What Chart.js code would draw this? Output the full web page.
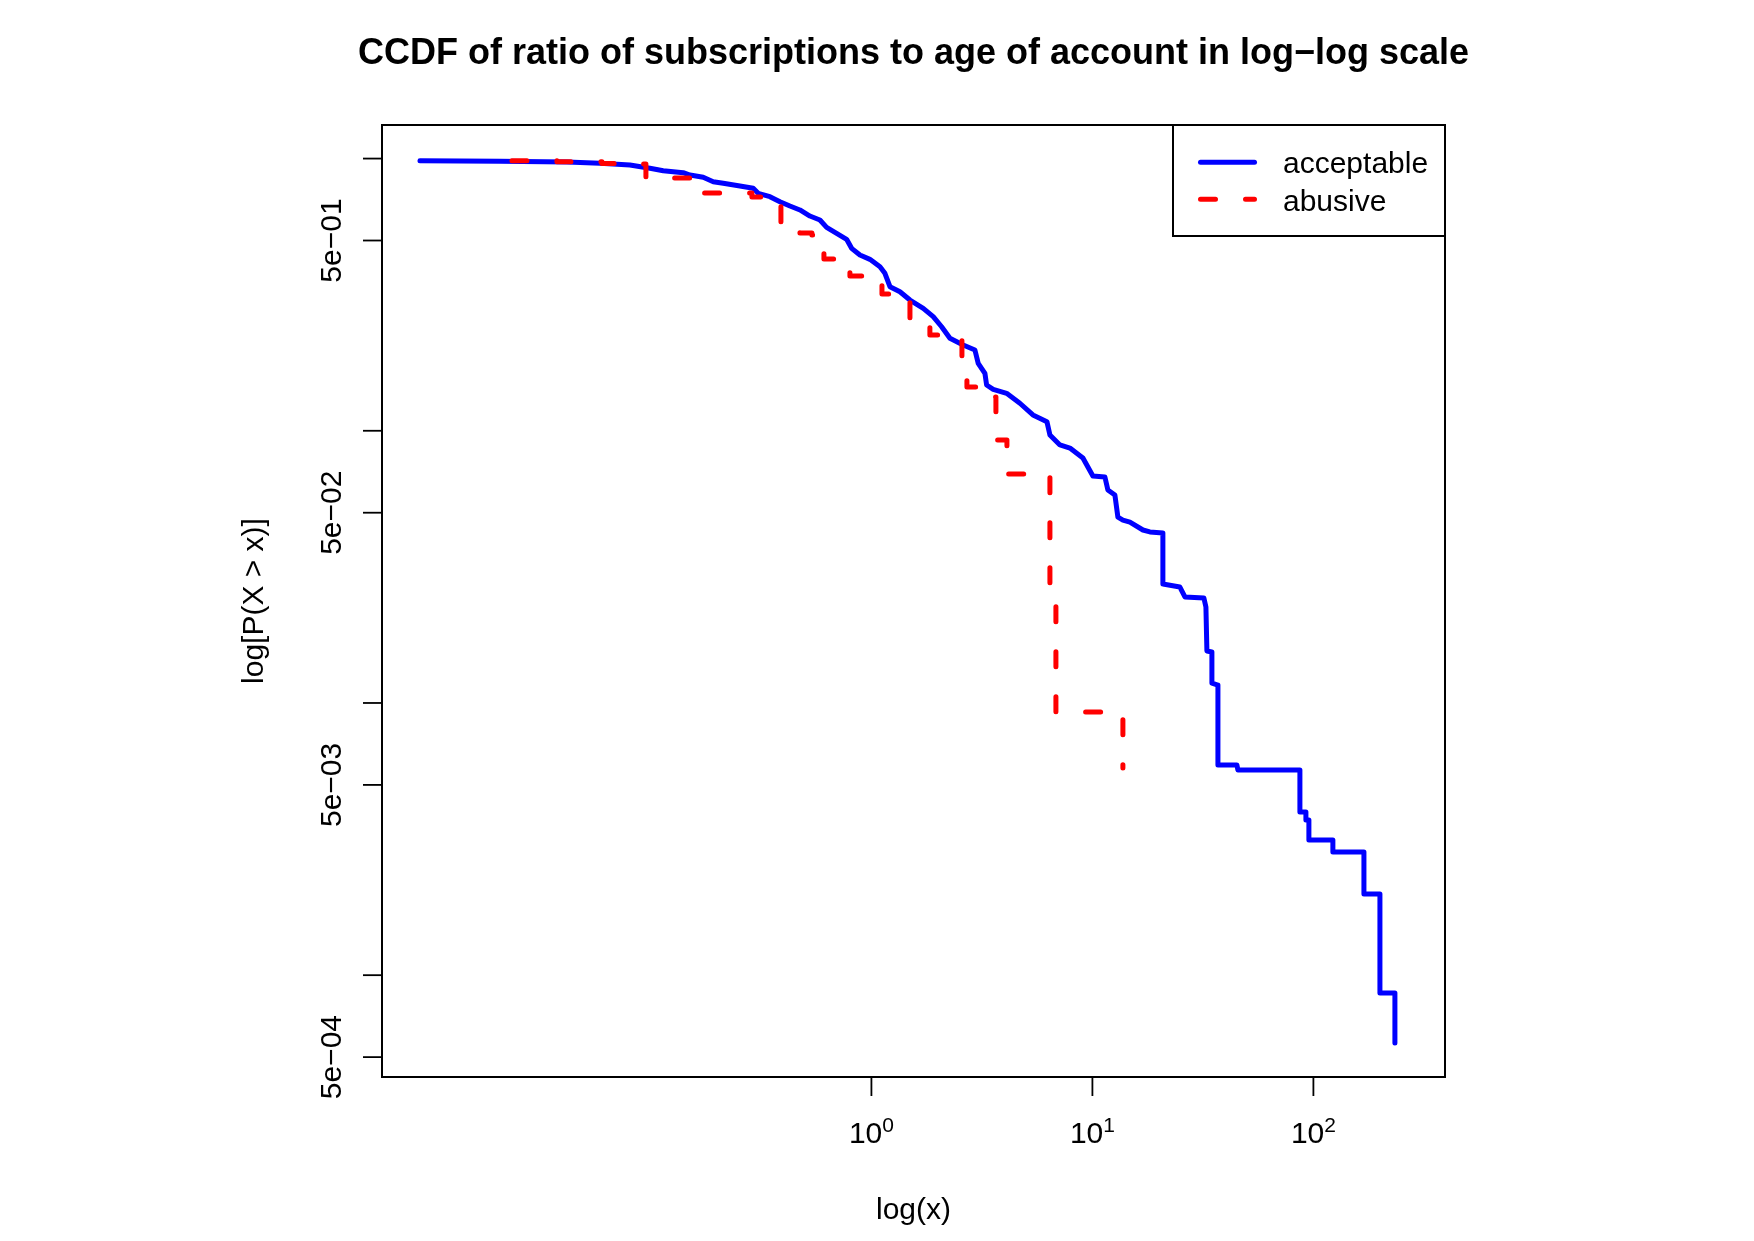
<!DOCTYPE html>
<html>
<head>
<meta charset="utf-8">
<title>CCDF log-log</title>
<script src="https://cdn.jsdelivr.net/npm/chart.js@4.4.0/dist/chart.umd.min.js"></script>
<style>
  html, body { margin: 0; padding: 0; background: #fff; }
  canvas { display: block; }
</style>
</head>
<body>
<canvas id="ccdf" width="1754" height="1241"></canvas>
<script>
// acceptable (repeated x = vertical drop)
const acceptableX = [0.00906, 0.02084, 0.04191, 0.05908, 0.08076, 0.09948, 0.1143, 0.1407, 0.1510, 0.1733,
    0.1924, 0.2135, 0.2541, 0.2918, 0.3074, 0.3473, 0.3855, 0.4279, 0.4748, 0.5268,
    0.5848, 0.6270, 0.6959, 0.7722, 0.8136, 0.8873, 0.9845, 1.093, 1.151, 1.213,
    1.346, 1.494, 1.716, 1.904, 2.078, 2.266, 2.602, 2.940, 3.043, 3.263,
    3.321, 3.557, 4.091, 4.697, 5.380, 6.225, 6.423, 7.128, 7.911, 9.059,
    9.541, 10.05, 11.39, 11.75, 12.64, 13.04, 13.74, 14.78, 16.93, 18.20,
    20.84, 20.84, 24.88, 26.22, 31.95, 32.63, 32.97, 34.73, 34.73, 36.98,
    36.98, 45.07, 45.54, 86.88, 86.88, 92.49, 92.49, 95.41, 95.41, 122.5,
    122.5, 169.3, 169.3, 200.0, 200.0, 233.8, 233.8];
const acceptableY = [0.9821, 0.9772, 0.9714, 0.9607, 0.9471, 0.9209, 0.9024, 0.8873, 0.8701, 0.8535,
    0.8222, 0.8111, 0.7930, 0.7776, 0.7453, 0.7243, 0.6942, 0.6694, 0.6474, 0.6151,
    0.5947, 0.5590, 0.5314, 0.5050, 0.4680, 0.4421, 0.4264, 0.4006, 0.3789, 0.3383,
    0.3242, 0.3022, 0.2818, 0.2626, 0.2411, 0.2186, 0.2065, 0.1980, 0.1770, 0.1626,
    0.1473, 0.1420, 0.1373, 0.1262, 0.1143, 0.1080, 0.0965, 0.0887, 0.0864, 0.0794,
    0.0736, 0.0682, 0.0676, 0.0606, 0.0581, 0.0482, 0.0470, 0.0462, 0.0432, 0.0425,
    0.0421, 0.02735, 0.02667, 0.02451, 0.02430, 0.02252, 0.01552, 0.01539, 0.01184, 0.01164,
    0.005916, 0.005916, 0.005671, 0.005671, 0.003976, 0.003976, 0.003715, 0.003715, 0.003138, 0.003138,
    0.002835, 0.002835, 0.001987, 0.001987, 0.000860, 0.000860, 0.000563];

// abusive: step corners (drawn as steps)
const abusiveX = [0.02362, 0.03775, 0.06033, 0.08963, 0.09541, 0.1557, 0.1675, 0.2879, 0.3366, 0.3895,
    0.4748, 0.5379, 0.5848, 0.6097, 0.7431, 0.7993, 1.016, 1.116, 1.264, 1.494,
    1.839, 2.338, 2.568, 2.705, 3.263, 3.659, 4.104, 6.423, 6.837, 13.74];
const abusiveY = [0.9821, 0.9738, 0.9591, 0.9550, 0.8485, 0.8272, 0.7472, 0.7224, 0.6924, 0.5604,
    0.5327, 0.5237, 0.5106, 0.4275, 0.4169, 0.3704, 0.3611, 0.3180, 0.2971, 0.2510,
    0.2248, 0.2211, 0.1820, 0.1448, 0.1330, 0.0925, 0.0694, 0.02310, 0.009264, 0.005768];

const xTicks = [1, 10, 100];
const xTickSup = ["0", "1", "2"];
const yTicks = [1, 0.5, 0.1, 0.05, 0.01, 0.005, 0.001, 0.0005];
const yTickLabels = ["", "5e\u221201", "", "5e\u221202", "", "5e\u221203", "", "5e\u221204"];

const FONT = '"Liberation Sans", Arial, Helvetica, sans-serif';

function toPoints(xs, ys) {
    return xs.map((v, i) => ({ x: v, y: ys[i] }));
}

// R-style box, ticks, labels and legend
const baseGraphics = {
    id: "baseGraphics",
    afterDraw(chart) {
        const { ctx, chartArea: a, scales } = chart;
        const x = scales.x;
        const y = scales.y;
        ctx.save();
        ctx.fillStyle = "#000";
        ctx.strokeStyle = "#000";

        // title
        ctx.font = "bold 36px " + FONT;
        ctx.textAlign = "center";
        ctx.textBaseline = "alphabetic";
        ctx.fillText("CCDF of ratio of subscriptions to age of account in log\u2212log scale", (a.left + a.right) / 2, 64);

        // box
        ctx.lineWidth = 2;
        ctx.strokeRect(a.left, a.top, a.right - a.left, a.bottom - a.top);

        // y axis
        ctx.lineWidth = 1.8;
        ctx.font = "30px " + FONT;
        yTicks.forEach((v, i) => {
            const py = y.getPixelForValue(v);
            ctx.beginPath();
            ctx.moveTo(a.left - 19, py);
            ctx.lineTo(a.left, py);
            ctx.stroke();
            if (yTickLabels[i]) {
                ctx.save();
                ctx.translate(a.left - 41, py);
                ctx.rotate(-Math.PI / 2);
                ctx.textAlign = "center";
                ctx.fillText(yTickLabels[i], 0, 0);
                ctx.restore();
            }
        });

        // x axis
        xTicks.forEach((v, i) => {
            const px = x.getPixelForValue(v);
            ctx.beginPath();
            ctx.moveTo(px, a.bottom);
            ctx.lineTo(px, a.bottom + 19);
            ctx.stroke();
            ctx.font = "30px " + FONT;
            const w1 = ctx.measureText("10").width;
            ctx.font = "21px " + FONT;
            const w2 = ctx.measureText(xTickSup[i]).width;
            const start = px - (w1 + w2) / 2;
            ctx.textAlign = "left";
            ctx.font = "30px " + FONT;
            ctx.fillText("10", start, a.bottom + 66);
            ctx.font = "21px " + FONT;
            ctx.fillText(xTickSup[i], start + w1, a.bottom + 55);
        });

        // axis titles
        ctx.font = "30px " + FONT;
        ctx.textAlign = "center";
        ctx.fillText("log(x)", (a.left + a.right) / 2, a.bottom + 142);
        ctx.save();
        ctx.translate(a.left - 119, (a.top + a.bottom) / 2);
        ctx.rotate(-Math.PI / 2);
        ctx.fillText("log[P(X > x)]", 0, 0);
        ctx.restore();

        // legend, top right corner
        const lx = a.right - 272;
        const ly = a.top;
        ctx.lineWidth = 2;
        ctx.strokeRect(lx, ly, 272, 111);
        ctx.lineWidth = 5;
        ctx.lineCap = "round";
        ctx.strokeStyle = "#0000ff";
        ctx.beginPath();
        ctx.moveTo(lx + 27.5, ly + 37.3);
        ctx.lineTo(lx + 81.5, ly + 37.3);
        ctx.stroke();
        ctx.strokeStyle = "#ff0000";
        ctx.setLineDash([15, 30]);
        ctx.beginPath();
        ctx.moveTo(lx + 27.5, ly + 74.3);
        ctx.lineTo(lx + 81.5, ly + 74.3);
        ctx.stroke();
        ctx.setLineDash([]);
        ctx.textAlign = "left";
        ctx.fillStyle = "#000";
        ctx.fillText("acceptable", lx + 110, ly + 48);
        ctx.fillText("abusive", lx + 110, ly + 85.5);

        ctx.restore();
    },
};

new Chart(document.getElementById("ccdf"), {
    type: "scatter",
    data: {
        datasets: [
            {
                label: "acceptable",
                data: toPoints(acceptableX, acceptableY),
                showLine: true,
                borderColor: "#0000ff",
                borderWidth: 5,
                borderCapStyle: "round",
                borderJoinStyle: "round",
                pointRadius: 0,
                order: 2,
            },
            {
                label: "abusive",
                data: toPoints(abusiveX, abusiveY),
                showLine: true,
                stepped: "before",
                borderColor: "#ff0000",
                borderWidth: 5,
                borderDash: [15, 30],
                borderCapStyle: "round",
                borderJoinStyle: "round",
                pointRadius: 0,
                order: 1,
            },
        ],
    },
    options: {
        responsive: false,
        animation: false,
        devicePixelRatio: 1,
        layout: { padding: { left: 382, right: 309, top: 125, bottom: 164 } },
        plugins: {
            legend: { display: false },
            title: { display: false },
            tooltip: { enabled: false },
        },
        scales: {
            x: { type: "logarithmic", display: false, min: 0.0061, max: 394 },
            y: { type: "logarithmic", display: false, min: 0.0004226, max: 1.3284 },
        },
    },
    plugins: [baseGraphics],
});
</script>
</body>
</html>
